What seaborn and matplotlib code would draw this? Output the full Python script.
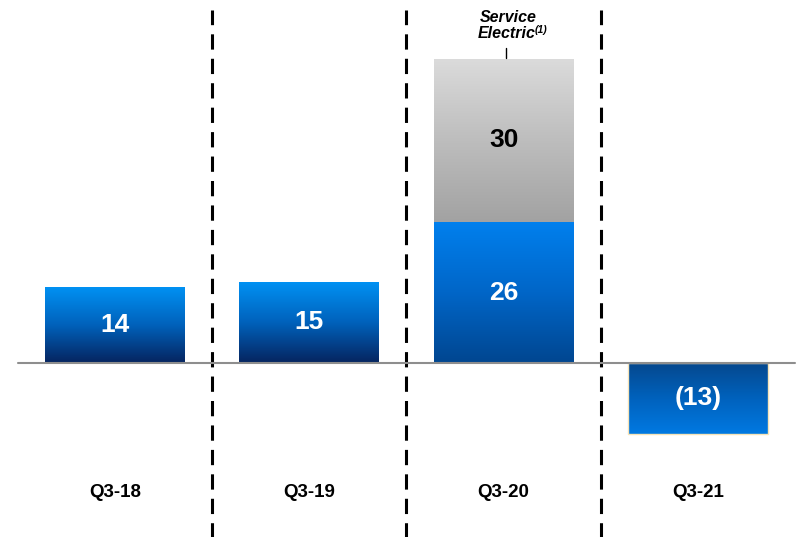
import matplotlib
matplotlib.use("Agg")
import matplotlib.pyplot as plt
from matplotlib.colors import LinearSegmentedColormap
import numpy as np
import pandas as pd
import seaborn as sns

# data
quarters = ["Q3-18", "Q3-19", "Q3-20", "Q3-21"]
base_vals = [14, 15, 26, -13]
service_electric = [0, 0, 30, 0]
value_labels = ["14", "15", "26", "(13)"]

totals = [b + s for b, s in zip(base_vals, service_electric)]
df = pd.DataFrame({"quarter": quarters, "base": base_vals, "total": totals})

sns.set_theme(style="white")
plt.rcParams["font.family"] = ["Liberation Sans", "DejaVu Sans"]

fig = plt.figure(figsize=(7.99, 5.37), dpi=100)
ax = fig.add_axes([0, 0, 1, 1])

# grey stack first (total), blue base drawn over it
sns.barplot(data=df, x="quarter", y="total", color="#bbbbbb", width=0.72,
            ax=ax, saturation=1, linewidth=0)
n_grey = len(ax.patches)
sns.barplot(data=df, x="quarter", y="base", color="#0070d0", width=0.72,
            ax=ax, saturation=1, linewidth=0)

blue_up = LinearSegmentedColormap.from_list("bu", ["#06245f", "#0062bc", "#0092f4"])
blue_tall = LinearSegmentedColormap.from_list("bt", ["#004690", "#0066c8", "#0080ee"])
blue_dn = LinearSegmentedColormap.from_list("bd", ["#0079e2", "#0062bd", "#05488e"])
grey = LinearSegmentedColormap.from_list("gr", ["#a2a2a2", "#bdbdbd", "#dbdbdb"])

grad = np.linspace(0, 1, 256).reshape(-1, 1)
for i, p in enumerate(ax.patches):
    h = p.get_height()
    if h == 0:
        continue
    x0, y0, w = p.get_x(), p.get_y(), p.get_width()
    ylo, yhi = min(y0, y0 + h), max(y0, y0 + h)
    if i < n_grey:
        k = i
        if service_electric[k] == 0:
            continue
        cmap = grey
        ylo = base_vals[k]
    else:
        k = i - n_grey
        if h < 0:
            cmap = blue_dn
        elif service_electric[k]:
            cmap = blue_tall
        else:
            cmap = blue_up
    im = ax.imshow(grad, cmap=cmap, origin="lower", aspect="auto",
                   extent=[x0, x0 + w, ylo, yhi], zorder=p.get_zorder() + 0.1)
    im.set_clip_path(p)
    if i >= n_grey and h < 0:
        p.set_edgecolor("#f6e4b8")
        p.set_linewidth(1)
        p.set_zorder(p.get_zorder() + 0.2)
        p.set_facecolor("none")

for i, (b, s) in enumerate(zip(base_vals, service_electric)):
    ax.text(i, b / 2, value_labels[i], ha="center", va="center",
            color="white", fontsize=19, fontweight="bold", zorder=10)
    if s:
        ax.text(i, b + s / 2, str(s), ha="center", va="center",
                color="black", fontsize=19, fontweight="bold", zorder=10)
        ax.plot([i + 0.01, i + 0.01], [b + s + 0.2, b + s + 2.0],
                color="black", lw=1, zorder=10)
        ax.text(i + 0.025, b + s + 7.6, "Service", ha="center", va="center",
                color="black", fontsize=11.5, fontweight="bold", style="italic")
        ax.text(i + 0.015, b + s + 4.7, "Electric", ha="center", va="center",
                color="black", fontsize=11.5, fontweight="bold", style="italic")
        ax.text(i + 0.16, b + s + 5.4, "(1)", ha="left", va="center",
                color="black", fontsize=7.5, fontweight="bold", style="italic")

for i, q in enumerate(quarters):
    ax.text(i, -23.8, q, ha="center", va="center", fontsize=13.5,
            fontweight="bold", color="black")

ax.plot([-0.5, 3.5], [0, 0], color="#8e8e8e", lw=1.5, zorder=5)
for xv in [0.5, 1.5, 2.5]:
    ax.plot([xv, xv], [-33, 65], color="black", lw=2.2,
            linestyle=(0, (5, 3)), zorder=4)

ax.set_xlim(-0.592, 3.52)
ax.set_ylim(-32.0, 66.85)
ax.axis("off")

fig.savefig("out.png", dpi=100)
